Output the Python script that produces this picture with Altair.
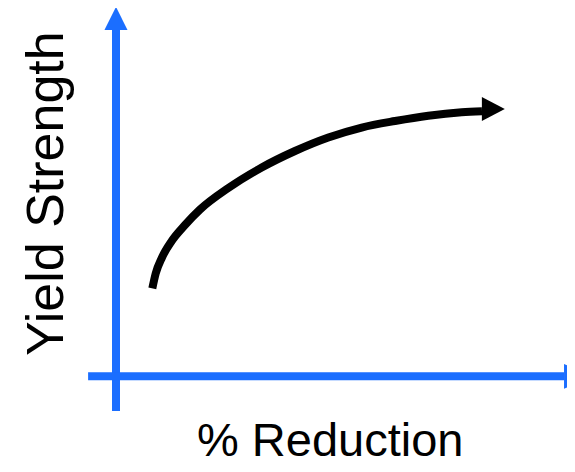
import altair as alt
import pandas as pd

# Curve (Yield Strength vs % Reduction), data units
curve_x = [8.07, 8.82, 10.22, 12.38, 15.33, 18.67, 24.96, 32.38, 39.78, 47.18, 54.60, 62.00, 69.40, 76.82, 81.33]
curve_y = [23.89, 27.91, 32.26, 36.74, 41.08, 45.29, 51.13, 56.69, 61.17, 64.84, 67.55, 69.32, 70.76, 71.68, 71.95]

# Axis shafts
xaxis_x = [-6.2, 99.56]
xaxis_y = [0.0, 0.0]
yaxis_x = [0.0, 0.0]
yaxis_y = [-9.4, 94.0]

# Arrowheads (triangles)
yhead_x = [-2.56, 0.0, 2.56]
yhead_y = [94.0, 100.3, 94.0]
yhead_base = 94.0

xhead_y = [-3.35, 0.0, 3.35]
xhead_x = [99.56, 106.4, 99.56]
xhead_base = 99.56

chead_y = [69.34, 72.6, 75.86]
chead_x = [81.3, 86.4, 81.3]
chead_base = 81.3

# Labels
ylabel_text = ["Yield Strength"]
ylabel_x = [-11.8]
ylabel_y = [49.6]
xlabel_text = ["% Reduction"]
xlabel_x = [47.6]
xlabel_y = [-21.7]

BLUE = "#1B6EFF"
xs = alt.Scale(domain=[-24, 100.22], nice=False, zero=False)
ys = alt.Scale(domain=[-22.18, 100], nice=False, zero=False)


def X(field="x"):
    return alt.X(f"{field}:Q", scale=xs, axis=None)


def Y(field="y"):
    return alt.Y(f"{field}:Q", scale=ys, axis=None)


curve = alt.Chart(pd.DataFrame({"x": curve_x, "y": curve_y, "o": range(len(curve_x))})).mark_line(
    color="black", strokeWidth=8, interpolate="monotone", strokeCap="butt"
).encode(x=X(), y=Y(), order="o:Q")

xaxis = alt.Chart(pd.DataFrame({"x": xaxis_x, "y": xaxis_y})).mark_line(
    color=BLUE, strokeWidth=8, strokeCap="butt"
).encode(x=X(), y=Y())

yaxis = alt.Chart(pd.DataFrame({"x": yaxis_x, "y": yaxis_y, "o": [0, 1]})).mark_line(
    color=BLUE, strokeWidth=8, strokeCap="butt"
).encode(x=X(), y=Y(), order="o:Q")

yhead = alt.Chart(pd.DataFrame({"x": yhead_x, "y": yhead_y, "b": [yhead_base] * 3})).mark_area(
    color=BLUE, orient="vertical"
).encode(x=X(), y=Y(), y2="b:Q")

xhead = alt.Chart(pd.DataFrame({"x": xhead_x, "y": xhead_y, "b": [xhead_base] * 3})).mark_area(
    color=BLUE, orient="horizontal"
).encode(x=X(), y=Y(), x2="b:Q")

chead = alt.Chart(pd.DataFrame({"x": chead_x, "y": chead_y, "b": [chead_base] * 3})).mark_area(
    color="black", orient="horizontal"
).encode(x=X(), y=Y(), x2="b:Q")

ylabel = alt.Chart(pd.DataFrame({"x": ylabel_x, "y": ylabel_y, "t": ylabel_text})).mark_text(
    font="Liberation Sans", fontSize=52, angle=270, align="center", baseline="alphabetic", color="black"
).encode(x=X(), y=Y(), text="t:N")

xlabel = alt.Chart(pd.DataFrame({"x": xlabel_x, "y": xlabel_y, "t": xlabel_text})).mark_text(
    font="Liberation Sans", fontSize=47, align="center", baseline="alphabetic", color="black"
).encode(x=X(), y=Y(), text="t:N")

chart = alt.layer(yaxis, xaxis, yhead, xhead, curve, chead, ylabel, xlabel).properties(
    width=559, height=450, autosize=alt.AutoSizeParams(type="none"), padding=0
).configure_view(stroke=None)

chart.save("out.html", embed_options={"renderer": "svg", "actions": False})
